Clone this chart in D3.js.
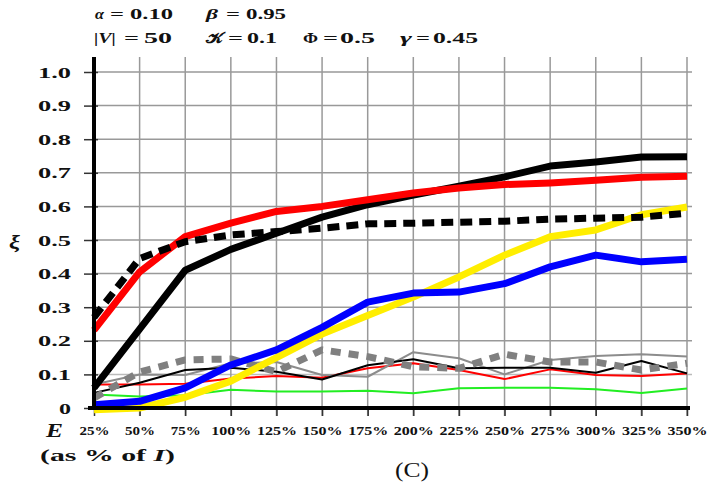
<!DOCTYPE html>
<html><head><meta charset="utf-8">
<script src="https://cdn.jsdelivr.net/npm/d3@7/dist/d3.min.js"></script>
<style>body{margin:0;background:#fff}svg{display:block}text{font-family:"Liberation Serif","Times New Roman",serif}</style>
</head><body><svg id="c" width="707" height="489"></svg>
<script>
const categories = ["25%","50%","75%","100%","125%","150%","175%","200%","225%","250%","275%","300%","325%","350%"];
const yTicks = [0,0.1,0.2,0.3,0.4,0.5,0.6,0.7,0.8,0.9,1.0];
const greenThin  = [0.040,0.034,0.038,0.054,0.049,0.049,0.051,0.044,0.059,0.060,0.060,0.056,0.045,0.058];
const redThin    = [0.070,0.070,0.072,0.088,0.095,0.090,0.118,0.133,0.113,0.086,0.115,0.098,0.095,0.103];
const grayThin   = [0.070,0.100,0.098,0.133,0.137,0.098,0.093,0.166,0.148,0.100,0.143,0.155,0.160,0.153];
const blackThin  = [0.045,0.075,0.113,0.120,0.108,0.085,0.127,0.145,0.118,0.120,0.120,0.105,0.140,0.103];
const grayDotted = [0.030,0.107,0.143,0.146,0.108,0.173,0.153,0.123,0.118,0.160,0.137,0.137,0.113,0.133];
const yellowThick= [-0.005,0.000,0.032,0.080,0.150,0.220,0.275,0.330,0.390,0.455,0.510,0.530,0.575,0.598];
const blueThick  = [0.010,0.020,0.060,0.128,0.173,0.240,0.315,0.342,0.345,0.370,0.420,0.455,0.435,0.443];
const blackThick = [0.060,0.235,0.410,0.472,0.520,0.568,0.605,0.634,0.660,0.688,0.720,0.732,0.747,0.748];
const redThick   = [0.232,0.405,0.510,0.550,0.585,0.600,0.620,0.640,0.655,0.665,0.670,0.678,0.687,0.690];
const blackDashed= [0.270,0.445,0.495,0.515,0.525,0.535,0.548,0.550,0.553,0.556,0.562,0.565,0.568,0.580];

const svg = d3.select("#c");
const x = d3.scalePoint().domain(categories).range([94,687]);
const y = d3.scaleLinear().domain([0,1]).range([408,72]);
const plotTop = 57;

// grid
svg.append("g").selectAll("line").data(yTicks.slice(1)).join("line")
  .attr("x1",94).attr("x2",692).attr("y1",d=>y(d)).attr("y2",d=>y(d))
  .attr("stroke",d=>d===0.1?"#bbb":"#999").attr("stroke-width",1.5);
svg.append("g").selectAll("line").data(categories.slice(1)).join("line")
  .attr("x1",d=>x(d)).attr("x2",d=>x(d)).attr("y1",plotTop).attr("y2",416)
  .attr("stroke","#999").attr("stroke-width",1.5);

// axes
const yAxis = d3.axisLeft(y).tickValues(yTicks).tickSize(10).tickFormat(d=>d===0?"0":d3.format(".1f")(d));
const gy = svg.append("g").attr("transform","translate(94,0)").call(yAxis);
gy.select(".domain").remove();
gy.selectAll(".tick line").attr("stroke","#333").attr("stroke-width",1.5).attr("x2",-10).attr("x1",4);
gy.selectAll(".tick text").attr("x",-23).attr("dy","0.34em").attr("font-size",15).attr("font-weight","bold")
  .attr("fill","#111").attr("font-family","Liberation Serif")
  .attr("textLength",d=>d===0?12:33).attr("lengthAdjust","spacingAndGlyphs");

const xAxis = d3.axisBottom(x).tickSize(8);
const gx = svg.append("g").attr("transform","translate(0,408)").call(xAxis);
gx.select(".domain").remove();
gx.selectAll(".tick line").attr("stroke","#333").attr("stroke-width",1.5);
gx.selectAll(".tick text").attr("y",27).attr("dy",0).attr("font-size",12).attr("font-weight","bold")
  .attr("fill","#111").attr("font-family","Liberation Serif")
  .attr("textLength",d=>d.length>3?40:30).attr("lengthAdjust","spacingAndGlyphs");

// series
const line = d3.line().x((d,i)=>x(categories[i])).y(d=>y(d));
const series = [
  {v:greenThin,  c:"#22ee22", w:2},
  {v:redThin,    c:"#ff0000", w:2},
  {v:grayThin,   c:"#8c8c8c", w:2},
  {v:blackThin,  c:"#000000", w:2},
  {v:grayDotted, c:"#808080", w:7, dash:"10,8"},
  {v:yellowThick,c:"#ffee00", w:7},
  {v:blueThick,  c:"#0000ff", w:7},
  {v:blackThick, c:"#000000", w:7},
  {v:redThick,   c:"#ff0000", w:7},
  {v:blackDashed,c:"#000000", w:7, dash:"12,7"}
];
svg.append("g").selectAll("path").data(series).join("path")
  .attr("d",d=>line(d.v)).attr("fill","none").attr("stroke",d=>d.c).attr("stroke-width",d=>d.w)
  .attr("stroke-dasharray",d=>d.dash||null).attr("stroke-linejoin","round");

// axis lines
svg.append("line").attr("x1",94).attr("x2",94).attr("y1",plotTop).attr("y2",410).attr("stroke","#000").attr("stroke-width",4);
svg.append("line").attr("x1",88).attr("x2",690).attr("y1",408).attr("y2",408).attr("stroke","#000").attr("stroke-width",4);

// labels: [x, baseline, size, text, bold, italic, width]
const W = (xp,yp,size,str,bold,ital,width)=>{
  const t = svg.append("text").attr("x",xp).attr("y",yp).attr("font-size",size).attr("fill","#111")
    .attr("font-weight",bold?"bold":"normal").attr("font-style",ital?"italic":"normal").text(str);
  if(width) t.attr("textLength",width).attr("lengthAdjust","spacingAndGlyphs");
  return t;
};
// title line 1
W(95,19,14,"α",1,1,9);  W(110,19,14,"=",1,0,14); W(130,19,14,"0.10",1,0,43);
W(206,19,14,"β",1,1,12); W(226,19,14,"=",1,0,14); W(246,19,14,"0.95",1,0,40);
// title line 2
W(94,43,14,"|V|",1,1,22); W(124,43,14,"=",1,0,15); W(144,43,14,"50",1,0,28);
W(206,43,14,"𝒦",1,0,17); W(228,43,14,"=",1,0,15); W(247,43,14,"0.1",1,0,30);
W(303,43,14,"Φ",1,0,15); W(323,43,14,"=",1,0,15); W(340,43,14,"0.5",1,0,35);
W(400,43,14,"γ",1,1,12); W(416,43,14,"=",1,0,14); W(433,43,14,"0.45",1,0,45);
// axis titles
W(9,248,19,"ξ",1,1,11);
W(46,437,19,"E",1,1,17);
const t2 = svg.append("text").attr("x",40).attr("y",461).attr("font-size",17).attr("font-weight","bold").attr("fill","#111")
  .attr("textLength",135).attr("lengthAdjust","spacingAndGlyphs");
t2.append("tspan").text("(as % of ");
t2.append("tspan").text("I").attr("font-style","italic");
t2.append("tspan").text(")");
W(395,477,20,"(C)",0,0,34);
</script></body></html>
